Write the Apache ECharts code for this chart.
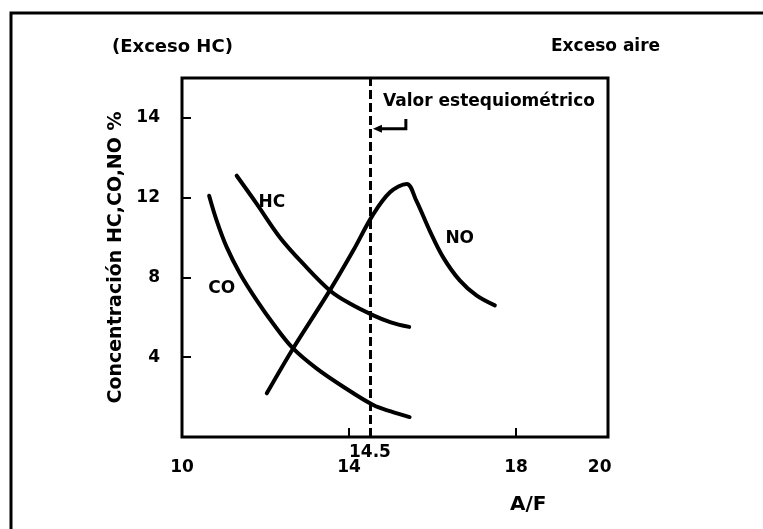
<!DOCTYPE html>
<html>
<head>
<meta charset="utf-8">
<script src="https://cdn.jsdelivr.net/npm/echarts@6/dist/echarts.min.js"></script>
<style>
html,body{margin:0;padding:0;background:#fff;}
#chart{width:763px;height:529px;}
</style>
</head>
<body>
<div id="chart"></div>
<script>
// ---- data ----
const coData = [[10.65,12.1],[10.83,10.85],[11.07,9.52],[11.39,8.19],[11.79,6.85],[12.18,5.69],[12.66,4.44],[13.22,3.44],[13.86,2.52],[14.58,1.6],[15.0,1.28],[15.45,1.0]];
const hcData = [[11.31,13.1],[11.79,11.69],[12.34,10.02],[12.9,8.69],[13.54,7.35],[14.02,6.69],[14.58,6.1],[15.0,5.75],[15.44,5.52]];
const noData = [[12.03,2.19],[12.66,4.44],[13.54,7.35],[14.1,9.35],[14.56,11.1],[14.98,12.27],[15.38,12.69],[15.61,11.85],[15.93,10.35],[16.25,9.02],[16.65,7.85],[17.05,7.1],[17.49,6.6]];
const curveLabels = [
  {name:'HC', value:[12.15,11.77]},
  {name:'CO', value:[10.95,7.44]},
  {name:'NO', value:[16.65,9.94]}
];
const xTickValues = [14, 18];
const xLabelValues = [10, 14, 18, 20];
const yTickValues = [4, 8, 12, 16];
const yTickLabels = ['4', '8', '12', '14'];
const stoichValue = 14.5;
const stoichLabel = '14.5';
const xMin = 10, xMax = 20.2, yMin = 0, yMax = 18;

const FONT = '"DejaVu Sans", sans-serif';
const chart = echarts.init(document.getElementById('chart'), null, {renderer:'canvas'});

const lineSeries = (name, data, extra) => Object.assign({
  name, type:'line', data, showSymbol:false, smooth:0.35,
  lineStyle:{color:'#000', width:4, cap:'round'}, itemStyle:{color:'#000'},
  silent:true, z:3
}, extra || {});

const option = {
  backgroundColor:'#fff',
  animation:false,
  textStyle:{fontFamily:FONT},
  grid:{left:182, top:78, right:155, bottom:92, show:true, borderColor:'#000', borderWidth:3, backgroundColor:'transparent', outerBoundsMode:'none'},
  title:[
    {text:'(Exceso HC)', left:107, top:33, textStyle:{fontFamily:FONT, fontSize:18, fontWeight:'bold', color:'#000'}},
    {text:'Exceso aire', left:546, top:33, textStyle:{fontFamily:FONT, fontSize:17, fontWeight:'bold', color:'#000'}},
    {text:'Valor estequiométrico', left:378, top:88, textStyle:{fontFamily:FONT, fontSize:17, fontWeight:'bold', color:'#000'}},
    {text:'A/F', left:505, top:490, textStyle:{fontFamily:FONT, fontSize:20, fontWeight:'bold', color:'#000'}}
  ],
  xAxis:{
    type:'value', min:xMin, max:xMax,
    axisLine:{show:false},
    splitLine:{show:false},
    axisTick:{show:true, inside:true, length:9, customValues:xTickValues, lineStyle:{color:'#000', width:2}},
    axisLabel:{show:true, customValues:xLabelValues, margin:22, color:'#000', fontFamily:FONT, fontSize:17, fontWeight:'bold'}
  },
  yAxis:{
    type:'value', min:yMin, max:yMax,
    name:'Concentración HC,CO,NO %', nameLocation:'middle', nameGap:56,
    nameTextStyle:{color:'#000', fontFamily:FONT, fontSize:19, fontWeight:'bold'},
    axisLine:{show:false},
    splitLine:{show:false},
    axisTick:{show:true, inside:true, length:9, customValues:yTickValues, lineStyle:{color:'#000', width:2}},
    axisLabel:{show:true, customValues:yTickValues, margin:22, color:'#000', fontFamily:FONT, fontSize:17, fontWeight:'bold',
      formatter:(v)=>{const i=yTickValues.indexOf(v); return i>=0?yTickLabels[i]:'';}}
  },
  series:[
    lineSeries('CO', coData, {
      markLine:{
        silent:true, symbol:['none','none'],
        lineStyle:{color:'#000', width:3, type:[9,4]},
        label:{show:true, position:'start', distance:7, formatter:stoichLabel, color:'#000', fontFamily:FONT, fontSize:17, fontWeight:'bold'},
        data:[{xAxis:stoichValue}]
      }
    }),
    lineSeries('HC', hcData),
    lineSeries('NO', noData),
    {
      type:'scatter', data:curveLabels, symbolSize:1, itemStyle:{color:'rgba(0,0,0,0)', opacity:1}, silent:true, z:4,
      label:{show:true, position:'inside', opacity:1, formatter:(p)=>p.name, color:'#000', textBorderWidth:0, fontFamily:FONT, fontSize:17, fontWeight:'bold'}
    }
  ]
};
chart.setOption(option);

// annotation bracket arrow (Valor estequiométrico) and outer frame
const px = (x,y)=>chart.convertToPixel({gridIndex:0},[x,y]);
const elbowTop = px(15.36, 15.95);
const elbowBot = px(15.36, 15.45);
const tip = px(stoichValue, 15.45);
chart.setOption({
  graphic:[
    {type:'polyline', shape:{points:[[11,529],[11,13],[763,13]]}, style:{stroke:'#000', lineWidth:3, fill:null}},
    {type:'polyline', shape:{points:[elbowTop, elbowBot, [tip[0]+10, elbowBot[1]]]}, style:{stroke:'#000', lineWidth:3, fill:null}},
    {type:'polygon', shape:{points:[[tip[0]+3, elbowBot[1]],[tip[0]+12, elbowBot[1]-4],[tip[0]+12, elbowBot[1]+4]]}, style:{fill:'#000'}}
  ]
});
</script>
</body>
</html>
